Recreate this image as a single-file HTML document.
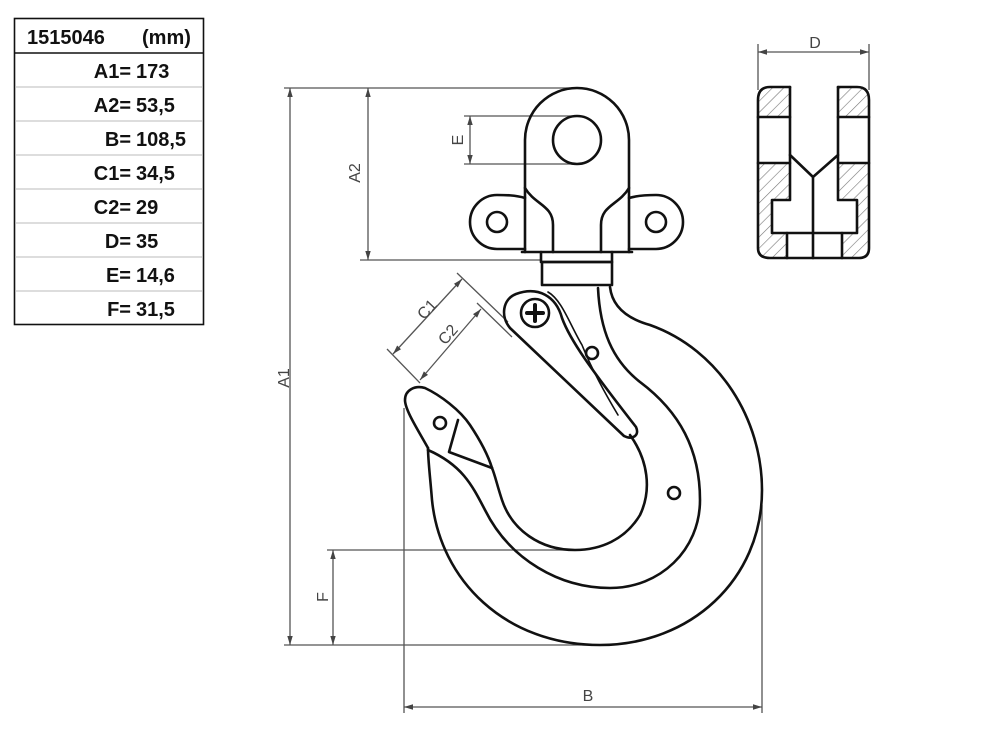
<!DOCTYPE html>
<html><head><meta charset="utf-8"><style>
html,body{margin:0;padding:0;background:#fff;}
svg{display:block;}
.t{font-family:"Liberation Sans",sans-serif;font-weight:bold;font-size:20px;fill:#111;}
.d{font-family:"Liberation Sans",sans-serif;font-size:16px;fill:#444;}
.k{fill:none;stroke:#111;stroke-width:2.6;stroke-linejoin:round;stroke-linecap:round;}
.m{fill:none;stroke:#555;stroke-width:1.3;}
</style></head><body>
<svg width="1000" height="744" viewBox="0 0 1000 744">
<defs>
<pattern id="h" width="8" height="8" patternUnits="userSpaceOnUse" patternTransform="rotate(45)">
<line x1="0" y1="0" x2="0" y2="8" stroke="#777" stroke-width="1.2"/></pattern>
<marker id="a" viewBox="0 0 10 10" refX="10" refY="5" markerWidth="7" markerHeight="7" orient="auto-start-reverse"><path d="M0,2 L10,5 L0,8 Z" fill="#444"/></marker>
</defs>
<!-- table -->
<rect x="14.5" y="18.5" width="189" height="306" fill="none" stroke="#111" stroke-width="1.6"/>
<line x1="14" y1="53" x2="203" y2="53" stroke="#111" stroke-width="1.6"/>
<g stroke="#bbb" stroke-width="1">
<line x1="15" y1="87" x2="202" y2="87"/><line x1="15" y1="121" x2="202" y2="121"/>
<line x1="15" y1="155" x2="202" y2="155"/><line x1="15" y1="189" x2="202" y2="189"/>
<line x1="15" y1="223" x2="202" y2="223"/><line x1="15" y1="257" x2="202" y2="257"/>
<line x1="15" y1="291" x2="202" y2="291"/></g>
<text class="t" x="27" y="44">1515046</text><text class="t" x="142" y="44">(mm)</text>
<g class="t" text-anchor="end">
<text x="131" y="78">A1=</text><text x="131" y="112">A2=</text><text x="131" y="146">B=</text>
<text x="131" y="180">C1=</text><text x="131" y="214">C2=</text><text x="131" y="248">D=</text>
<text x="131" y="282">E=</text><text x="131" y="316">F=</text></g>
<g class="t">
<text x="136" y="78">173</text><text x="136" y="112">53,5</text><text x="136" y="146">108,5</text>
<text x="136" y="180">34,5</text><text x="136" y="214">29</text><text x="136" y="248">35</text>
<text x="136" y="282">14,6</text><text x="136" y="316">31,5</text></g>

<!-- dimensions -->
<g class="m">
<line x1="284" y1="88" x2="570" y2="88"/><line x1="284" y1="645" x2="600" y2="645"/>
<line x1="290" y1="88" x2="290" y2="645" marker-start="url(#a)" marker-end="url(#a)"/>
<line x1="360" y1="260" x2="540" y2="260"/>
<line x1="368" y1="88" x2="368" y2="260" marker-start="url(#a)" marker-end="url(#a)"/>
<line x1="464" y1="116" x2="577" y2="116"/><line x1="464" y1="164" x2="577" y2="164"/>
<line x1="470" y1="116" x2="470" y2="164" marker-start="url(#a)" marker-end="url(#a)"/>
<line x1="327" y1="550" x2="578" y2="550"/>
<line x1="333" y1="550" x2="333" y2="645" marker-start="url(#a)" marker-end="url(#a)"/>
<line x1="404" y1="408" x2="404" y2="713"/><line x1="762" y1="505" x2="762" y2="713"/>
<line x1="404" y1="707" x2="762" y2="707" marker-start="url(#a)" marker-end="url(#a)"/>
<line x1="758" y1="44" x2="758" y2="90"/><line x1="869" y1="44" x2="869" y2="90"/>
<line x1="758" y1="52" x2="869" y2="52" marker-start="url(#a)" marker-end="url(#a)"/>
<line x1="457" y1="273" x2="508" y2="322"/><line x1="387" y1="349" x2="420" y2="383"/>
<line x1="462" y1="279" x2="393" y2="354" marker-start="url(#a)" marker-end="url(#a)"/>
<line x1="477" y1="303" x2="512" y2="337"/>
<line x1="481" y1="309" x2="420" y2="380" marker-start="url(#a)" marker-end="url(#a)"/>
</g>
<g class="d">
<text transform="translate(289,378) rotate(-90)" text-anchor="middle">A1</text>
<text transform="translate(360,173) rotate(-90)" text-anchor="middle">A2</text>
<text transform="translate(463,140) rotate(-90)" text-anchor="middle">E</text>
<text transform="translate(328,597) rotate(-90)" text-anchor="middle">F</text>
<text x="588" y="701" text-anchor="middle">B</text>
<text x="815" y="48" text-anchor="middle">D</text>
<text transform="translate(431,313) rotate(-47)" text-anchor="middle">C1</text>
<text transform="translate(452,338) rotate(-49)" text-anchor="middle">C2</text>
</g>

<!-- eye / swivel -->
<g class="k">
<path d="M525,252 L525,140 A52,52 0 0 1 629,140 L629,252"/>
<circle cx="577" cy="140" r="24"/>
<path d="M525,188 C535,205 553,205 553,225 L553,252 M629,188 C619,205 601,205 601,225 L601,252"/>
<path d="M525,198 C515,195 505,195 497,195 A27,27 0 0 0 497,249 L525,249"/>
<path d="M629,198 C639,195 649,195 656,195 A27,27 0 0 1 656,249 L629,249"/>
<circle cx="497" cy="222" r="10"/><circle cx="656" cy="222" r="10"/>
<line x1="522" y1="252" x2="632" y2="252"/>
<path d="M541,252 L541,262 L612,262 L612,252"/>
<rect x="542" y="262" width="70" height="23"/>
</g>
<!-- hook body -->
<g class="k">
<path d="M610,287 C612,305 625,318 650,325 C720,350 762,420 762,490 C762,580 690,645 600,645 C505,645 440,580 432,500 C430,475 428,460 428,448"/>
<path d="M598,288 C600,330 612,360 640,382 C680,412 700,450 700,500 C700,550 660,588 610,588 C560,588 510,560 485,510 C472,485 462,465 428,450"/>
<path d="M630,435 C648,460 652,490 640,515 C625,540 600,550 575,550 C540,550 512,530 502,500 C497,485 495,475 492,468"/>
<path d="M428,448 C418,430 405,410 405,400 C405,390 415,385 425,388 C440,395 460,410 470,425 C480,440 488,455 492,468"/>
<path d="M458,420 L449,452 L492,468"/>
<circle cx="440" cy="423" r="6"/>
<circle cx="592" cy="353" r="6"/><circle cx="674" cy="493" r="6"/>
<path d="M516,294 C538,286 556,296 562,318 C570,340 590,368 636,427 C640,436 632,440 624,436 L510,328 C500,316 503,299 516,294 Z"/>
<path d="M548,292 C562,300 570,325 582,345 C590,365 600,385 618,415" stroke-width="1.6"/>
<circle cx="535" cy="313" r="14"/>
<path d="M527,313 L543,313 M535,305 L535,321" stroke-width="4"/>
</g>

<!-- side view -->
<g>
<path d="M758,100 Q758,87 770,87 L790,87 L790,117 L758,117 Z" fill="url(#h)"/>
<path d="M838,87 L857,87 Q869,87 869,100 L869,117 L838,117 Z" fill="url(#h)"/>
<rect x="758" y="163" width="32" height="37" fill="url(#h)"/>
<rect x="838" y="163" width="31" height="37" fill="url(#h)"/>
<path d="M758,200 L772,200 L772,233 L787,233 L787,258 L770,258 Q758,258 758,248 Z" fill="url(#h)"/>
<path d="M869,200 L857,200 L857,233 L842,233 L842,258 L859,258 Q869,258 869,248 Z" fill="url(#h)"/>
</g>
<g class="k">
<path d="M790,87 L770,87 Q758,87 758,100 L758,248 Q758,258 770,258 L859,258 Q869,258 869,248 L869,100 Q869,87 857,87 L838,87"/>
<path d="M790,87 L790,200 L772,200 L772,233 L857,233 L857,200 L838,200 L838,87"/>
<path d="M758,117 L790,117 M758,163 L790,163 M838,117 L869,117 M838,163 L869,163"/>
<path d="M790,155 L813,177 L838,155 M813,177 L813,258 M787,233 L787,258 M842,233 L842,258"/>
</g>
</svg>
</body></html>
